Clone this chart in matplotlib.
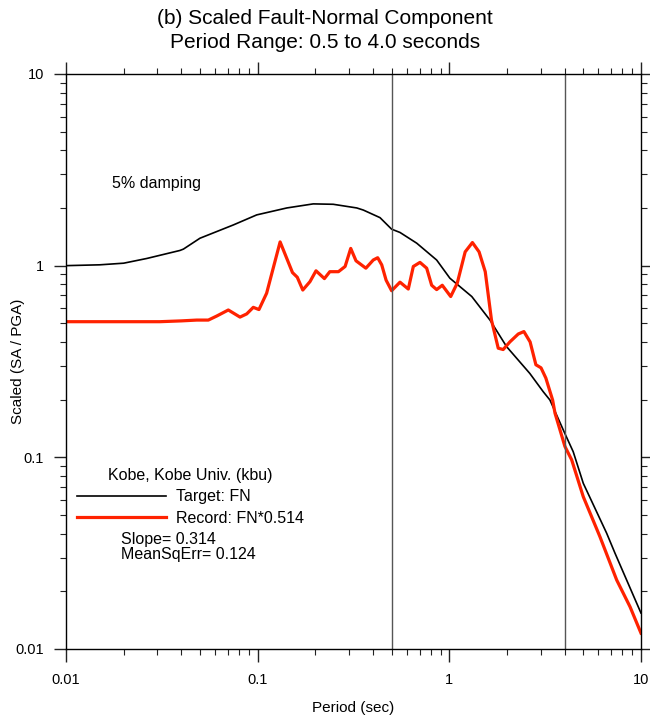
import numpy as np
import matplotlib
matplotlib.use("Agg")
from matplotlib import pyplot as plt
from matplotlib.ticker import LogLocator, FuncFormatter, NullFormatter

plt.rcParams['font.family'] = ['Liberation Sans', 'DejaVu Sans']

# target spectrum (fault-normal)
target_period = [0.01, 0.015, 0.02, 0.0264, 0.0393, 0.041, 0.05, 0.0746, 0.0989, 0.142, 0.195,
                 0.248, 0.329, 0.356, 0.435, 0.50, 0.553, 0.676, 0.859, 1.007, 1.31, 1.63,
                 1.99, 2.63, 3.09, 3.35, 4.01, 4.43, 5.0, 6.62, 7.32, 10.0]
target_sa = [1.0, 1.01, 1.03, 1.09, 1.20, 1.22, 1.39, 1.63, 1.84, 2.0, 2.10,
             2.09, 2.0, 1.95, 1.78, 1.55, 1.49, 1.31, 1.07, 0.86, 0.69, 0.52,
             0.378, 0.274, 0.22, 0.199, 0.133, 0.107, 0.0732, 0.0402, 0.0316, 0.0154]

# scaled record (FN * 0.514)
record_period = [0.01, 0.0309, 0.04, 0.0481, 0.0553, 0.0612, 0.0703, 0.0809, 0.0877, 0.0949,
                 0.1016, 0.1114, 0.131, 0.152, 0.161, 0.172, 0.1875, 0.2016, 0.223, 0.238,
                 0.264, 0.286, 0.306, 0.326, 0.367, 0.401, 0.423, 0.444, 0.468, 0.50,
                 0.553, 0.611, 0.649, 0.703, 0.762, 0.809, 0.859, 0.919, 1.017, 1.10,
                 1.21, 1.32, 1.43, 1.54, 1.66, 1.80, 1.91, 2.07, 2.29, 2.45,
                 2.64, 2.83, 3.01, 3.19, 3.46, 3.56, 4.01, 4.35, 5.0, 6.11,
                 7.47, 8.77, 10.0]
record_sa = [0.51, 0.51, 0.515, 0.52, 0.52, 0.546, 0.587, 0.539, 0.56, 0.606,
             0.59, 0.718, 1.33, 0.92, 0.87, 0.746, 0.825, 0.94, 0.856, 0.93,
             0.93, 0.99, 1.23, 1.06, 0.97, 1.07, 1.10, 1.01, 0.84, 0.74,
             0.82, 0.755, 0.99, 1.04, 0.97, 0.79, 0.75, 0.79, 0.69, 0.81,
             1.18, 1.32, 1.18, 0.93, 0.52, 0.371, 0.365, 0.40, 0.44, 0.453,
             0.40, 0.304, 0.293, 0.259, 0.199, 0.17, 0.114, 0.097, 0.0623, 0.0385,
             0.0229, 0.0166, 0.0121]

period_range = [0.5, 4.0]

fig = plt.figure(figsize=(6.5, 7.19), dpi=100)
ax = fig.add_axes([0.1015, 0.0974, 0.8846, 0.7997])

ax.plot(target_period, target_sa, color='black', lw=1.2, label='Target: FN')
ax.plot(record_period, record_sa, color='#ff2200', lw=2.3, label='Record: FN*0.514')

for p in period_range:
    ax.axvline(p, color='#555555', lw=1.0)

ax.set_xscale('log')
ax.set_yscale('log')
ax.set_xlim(0.01, 10)
ax.set_ylim(0.01, 10)

fmt = FuncFormatter(lambda v, pos: '%g' % v)
for axis in (ax.xaxis, ax.yaxis):
    axis.set_major_locator(LogLocator(base=10, numticks=10))
    axis.set_minor_locator(LogLocator(base=10, subs=np.arange(2, 10), numticks=20))
    axis.set_major_formatter(fmt)
    axis.set_minor_formatter(NullFormatter())

ax.tick_params(which='both', direction='out', top=True, right=True, labelsize=10.5, color='#222222')
ax.tick_params(which='major', length=9, width=1)
ax.tick_params(axis='x', which='major', pad=8)
ax.tick_params(axis='y', which='major', pad=7)
ax.tick_params(which='minor', length=4.5, width=0.8)
for s in ax.spines.values():
    s.set_linewidth(1.0)

ax.set_xlabel('Period (sec)', fontsize=11)
ax.set_ylabel('Scaled (SA / PGA)', fontsize=11)
ax.xaxis.set_label_coords(0.5, -0.091)
ax.yaxis.set_label_coords(-0.072, 0.5)

fig.suptitle('(b) Scaled Fault-Normal Component\nPeriod Range: 0.5 to 4.0 seconds',
             fontsize=15, y=0.987, linespacing=1.3)

ax.text(0.08, 0.81, '5% damping', transform=ax.transAxes, fontsize=11.5, va='center')

leg = ax.legend(loc='upper left', bbox_to_anchor=(0.019, 0.314), frameon=False,
                title='Kobe, Kobe Univ. (kbu)', fontsize=11.5, title_fontsize=11.5,
                handlelength=5.6, handletextpad=0.6, borderpad=0, borderaxespad=0,
                labelspacing=0.38)

ax.text(0.095, 0.1896, 'Slope= 0.314', transform=ax.transAxes, fontsize=11.5, va='center')
ax.text(0.095, 0.1635, 'MeanSqErr= 0.124', transform=ax.transAxes, fontsize=11.5, va='center')

fig.savefig('out.png', dpi=100)
